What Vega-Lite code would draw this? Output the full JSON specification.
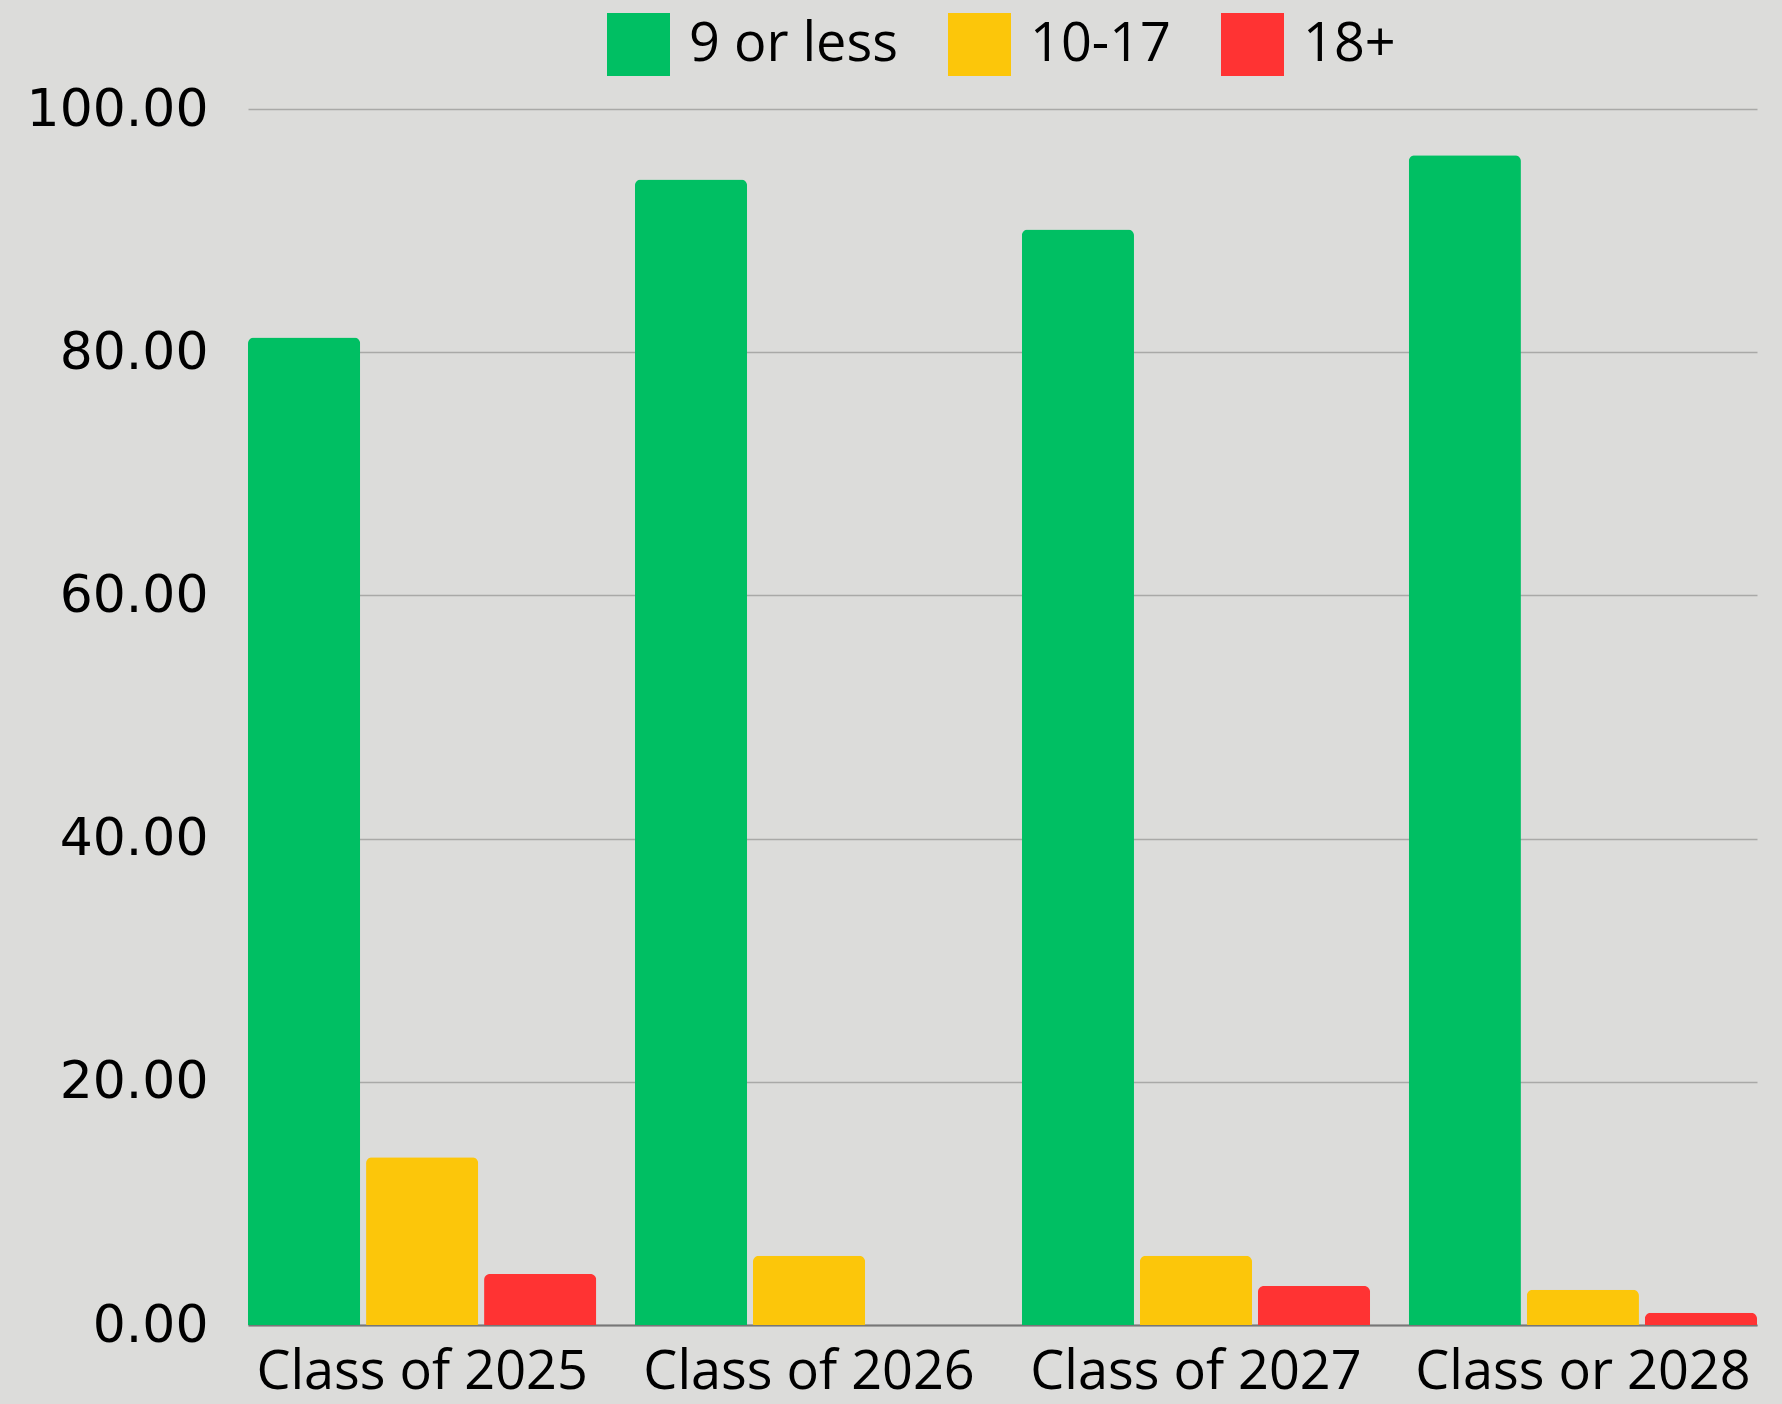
{
  "$schema": "https://vega.github.io/schema/vega-lite/v6.json",
  "width": 1509,
  "height": 1216,
  "autosize": {"type": "none"},
  "padding": {"left": 248, "top": 109, "right": 25, "bottom": 79},
  "background": "#dcdcda",
  "data": {
    "values": [
      {"cls": "Class of 2025", "group": "9 or less", "value": 81.2},
      {"cls": "Class of 2025", "group": "10-17", "value": 13.8},
      {"cls": "Class of 2025", "group": "18+", "value": 4.2},
      {"cls": "Class of 2026", "group": "9 or less", "value": 94.2},
      {"cls": "Class of 2026", "group": "10-17", "value": 5.7},
      {"cls": "Class of 2026", "group": "18+", "value": 0},
      {"cls": "Class of 2027", "group": "9 or less", "value": 90.1},
      {"cls": "Class of 2027", "group": "10-17", "value": 5.7},
      {"cls": "Class of 2027", "group": "18+", "value": 3.2},
      {"cls": "Class or 2028", "group": "9 or less", "value": 96.2},
      {"cls": "Class or 2028", "group": "10-17", "value": 2.9},
      {"cls": "Class or 2028", "group": "18+", "value": 1.0}
    ]
  },
  "mark": {"type": "bar", "cornerRadiusTopLeft": 6, "cornerRadiusTopRight": 6},
  "encoding": {
    "x": {
      "field": "cls",
      "type": "nominal",
      "sort": null,
      "scale": {"paddingInner": 0.1, "paddingOuter": 0},
      "axis": {
        "title": null,
        "labelAngle": 0,
        "labelFont": "Open Sans, sans-serif",
        "labelFontSize": 54,
        "labelColor": "#000000",
        "labelPadding": 20,
        "labelLimit": 0,
        "ticks": false,
        "domain": true,
        "domainColor": "#777777",
        "domainWidth": 2,
        "grid": false
      }
    },
    "xOffset": {
      "field": "group",
      "type": "nominal",
      "sort": ["9 or less", "10-17", "18+"],
      "scale": {"paddingInner": 0.05}
    },
    "y": {
      "field": "value",
      "type": "quantitative",
      "scale": {"domain": [0, 100], "nice": false},
      "axis": {
        "title": null,
        "values": [0, 20, 40, 60, 80, 100],
        "format": ".2f",
        "labelFont": "DejaVu Sans, sans-serif",
        "labelFontSize": 52,
        "labelColor": "#000000",
        "labelPadding": 40,
        "labelLimit": 0,
        "ticks": false,
        "domain": false,
        "grid": true,
        "gridColor": "#a9a9a7",
        "gridWidth": 1.5
      }
    },
    "color": {
      "field": "group",
      "type": "nominal",
      "sort": ["9 or less", "10-17", "18+"],
      "scale": {
        "domain": ["9 or less", "10-17", "18+"],
        "range": ["#00bf63", "#fcc60a", "#ff3333"]
      },
      "legend": {
        "title": null,
        "orient": "none",
        "direction": "horizontal",
        "legendX": 359,
        "legendY": -96,
        "padding": 0,
        "symbolType": "M-1,-1H1V1H-1Z",
        "symbolSize": 3969,
        "symbolStrokeWidth": 0,
        "symbolOpacity": 1,
        "labelFont": "Open Sans, sans-serif",
        "labelFontSize": 54,
        "labelColor": "#000000",
        "labelOffset": 19,
        "labelLimit": 0,
        "columnPadding": 50
      }
    }
  },
  "config": {
    "view": {"stroke": null}
  }
}
